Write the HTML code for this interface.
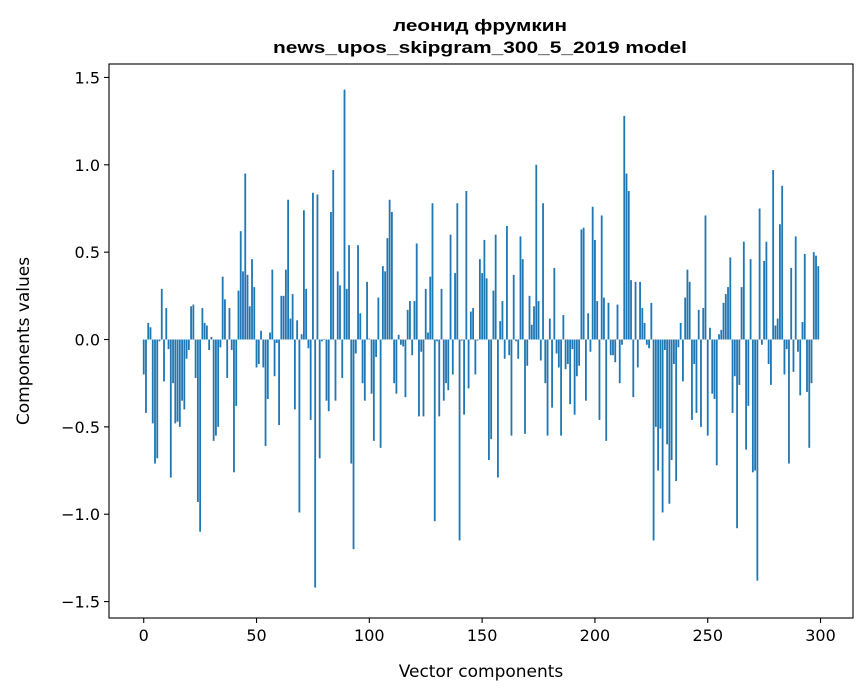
<!DOCTYPE html>
<html><head><meta charset="utf-8"><style>
html,body{margin:0;padding:0;background:#fff;}
svg{display:block;font-family:"DejaVu Sans","Liberation Sans",sans-serif;}
.ttl{font-family:"Liberation Sans","DejaVu Sans",sans-serif;font-weight:bold;}
</style></head><body>
<svg id="chart" width="867" height="696" viewBox="0 0 867 696" xmlns="http://www.w3.org/2000/svg">
<rect x="0" y="0" width="867" height="696" fill="#fff"/>
<text class="ttl" x="480" y="31" text-anchor="middle" font-size="17" textLength="174" lengthAdjust="spacingAndGlyphs">леонид фрумкин</text>
<text class="ttl" x="480" y="53" text-anchor="middle" font-size="17" textLength="414" lengthAdjust="spacingAndGlyphs">news_upos_skipgram_300_5_2019 model</text>
<g id="bars"></g>
<g id="xticks"></g>
<g id="yticks"></g>
<rect x="109" y="64" width="744" height="554" fill="none" stroke="#000" stroke-width="1.1"/>
<text x="481" y="677" text-anchor="middle" font-size="17">Vector components</text>
<text x="0" y="0" transform="translate(29,341) rotate(-90)" text-anchor="middle" font-size="17">Components values</text>
</svg>
<script>
const values = [
-0.2,-0.42,0.095,0.07,-0.48,-0.71,-0.68,-0.01,0.29,-0.24,
0.18,-0.055,-0.79,-0.25,-0.48,-0.47,-0.5,-0.35,-0.4,-0.11,
-0.06,0.19,0.2,-0.22,-0.93,-1.1,0.18,0.095,0.08,-0.06,
0.015,-0.58,-0.55,-0.5,-0.045,0.36,0.23,-0.22,0.18,-0.06,
-0.76,-0.38,0.28,0.62,0.39,0.95,0.37,0.19,0.46,0.3,
-0.16,-0.14,0.05,-0.16,-0.61,-0.34,0.04,0.4,-0.21,-0.02,
-0.49,0.25,0.25,0.4,0.8,0.12,0.26,-0.4,0.11,-0.99,
0.03,0.74,0.29,-0.05,-0.46,0.84,-1.42,0.83,-0.68,-0.01,
0.004,-0.35,-0.41,0.73,0.97,-0.35,0.39,0.31,-0.22,1.43,
0.29,0.54,-0.71,-1.2,-0.08,0.54,0.15,-0.25,-0.35,0.33,
0.005,-0.31,-0.58,-0.1,0.24,-0.62,0.42,0.39,0.58,0.8,
0.73,-0.25,-0.31,0.027,-0.03,-0.04,-0.33,0.17,0.22,-0.09,
0.22,0.55,-0.44,-0.07,-0.44,0.29,0.04,0.36,0.78,-1.04,
-0.01,-0.44,0.29,-0.35,-0.25,-0.29,0.6,-0.2,0.38,0.78,
-1.15,-0.006,-0.43,0.85,-0.28,0.16,0.18,-0.2,-0.006,0.46,
0.38,0.57,0.35,-0.69,-0.57,0.28,0.6,-0.79,0.105,0.22,
-0.11,0.65,-0.09,-0.55,0.37,-0.01,-0.11,0.59,0.46,-0.54,
-0.15,0.25,0.084,0.19,1.0,0.22,-0.12,0.78,-0.25,-0.55,
0.12,-0.39,0.41,-0.08,-0.16,-0.55,0.14,-0.17,-0.14,-0.37,
-0.055,-0.43,-0.21,-0.15,0.63,0.64,-0.35,0.15,-0.07,0.76,
0.57,0.22,-0.46,0.71,0.24,-0.58,0.21,-0.09,-0.09,-0.13,
0.2,-0.25,-0.03,1.28,0.95,0.85,0.34,-0.33,0.33,-0.16,
0.33,0.18,0.095,-0.03,-0.05,0.21,-1.15,-0.5,-0.75,-0.51,
-0.99,-0.06,-0.6,-0.94,-0.69,-0.14,-0.81,-0.044,0.095,-0.24,
0.24,0.4,0.33,-0.46,-0.14,-0.42,0.17,-0.5,0.18,0.71,
-0.55,0.067,-0.31,-0.34,-0.72,0.03,0.055,0.21,0.26,0.3,
0.47,-0.42,-0.21,-1.08,-0.26,0.3,0.56,-0.63,-0.38,0.46,
-0.76,-0.75,-1.38,0.75,-0.03,0.45,0.56,-0.14,-0.26,0.97,
0.08,0.12,0.66,0.88,-0.2,-0.055,-0.71,0.41,-0.185,0.59,
-0.07,-0.32,0.1,0.49,-0.3,-0.62,-0.25,0.5,0.48,0.42
];
const xTickValues = [0,50,100,150,200,250,300];
const yTickValues = [-1.5,-1.0,-0.5,0.0,0.5,1.0,1.5];
const yTickLabels = ["\u22121.5","\u22121.0","\u22120.5","0.0","0.5","1.0","1.5"];

const NS = "http://www.w3.org/2000/svg";
const L = 109, R = 853, T = 64, B = 618;
const xmin = -15.39, xmax = 314.39, ymin = -1.594, ymax = 1.577;
function xs(v){ return L + (v - xmin) / (xmax - xmin) * (R - L); }
function ys(v){ return B - (v - ymin) / (ymax - ymin) * (B - T); }

const barsG = document.getElementById('bars');
values.forEach((v, i) => {
  const r = document.createElementNS(NS, 'rect');
  const x0 = xs(i - 0.4), x1 = xs(i + 0.4);
  const y0 = ys(Math.max(v, 0)), y1 = ys(Math.min(v, 0));
  r.setAttribute('x', x0);
  r.setAttribute('width', x1 - x0);
  r.setAttribute('y', y0);
  r.setAttribute('height', Math.max(y1 - y0, 0.01));
  r.setAttribute('fill', '#1f77b4');
  
  
  barsG.appendChild(r);
});

const xg = document.getElementById('xticks');
xTickValues.forEach(v => {
  const x = xs(v);
  const l = document.createElementNS(NS, 'line');
  l.setAttribute('x1', x); l.setAttribute('x2', x);
  l.setAttribute('y1', B); l.setAttribute('y2', B + 5);
  l.setAttribute('stroke', '#000'); l.setAttribute('stroke-width', '1.1');
  
  
  xg.appendChild(l);
  const t = document.createElementNS(NS, 'text');
  t.setAttribute('x', x); t.setAttribute('y', B + 23);
  t.setAttribute('text-anchor', 'middle'); t.setAttribute('font-size', '16');
  t.textContent = String(v);
  
  
  xg.appendChild(t);
});

const yg = document.getElementById('yticks');
yTickValues.forEach((v, k) => {
  const y = ys(v);
  const l = document.createElementNS(NS, 'line');
  l.setAttribute('x1', L - 5); l.setAttribute('x2', L);
  l.setAttribute('y1', y); l.setAttribute('y2', y);
  l.setAttribute('stroke', '#000'); l.setAttribute('stroke-width', '1.1');
  
  
  yg.appendChild(l);
  const t = document.createElementNS(NS, 'text');
  t.setAttribute('x', L - 9); t.setAttribute('y', y + 6);
  t.setAttribute('text-anchor', 'end'); t.setAttribute('font-size', '16');
  t.textContent = yTickLabels[k];
  
  
  yg.appendChild(t);
});
</script>
</body></html>
